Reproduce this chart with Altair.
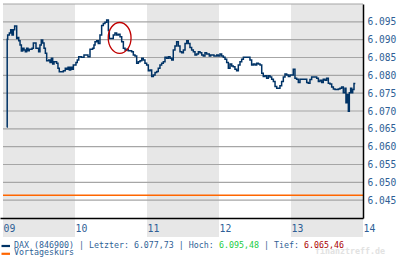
import altair as alt
import pandas as pd

# ---- data (minutes after 09:00, index points) ----
minutes = [
    3.1, 3.5, 3.9, 5.3, 6.4, 7.5, 8.6, 9.7, 11.4, 11.9, 13.1, 14.2, 15.3, 16.4, 17.5, 18.6, 19.7, 20.8,
    21.9, 24.2, 25.3, 27.5, 29.7, 30.8, 31.9, 33.1, 34.2, 35.3, 36.4, 38.1, 39.2, 40.3, 41.4, 42.5, 44.7,
    45.8, 46.9, 50.3, 51.9, 53.1, 54.2, 55.3, 56.4, 57.5, 58.6, 60.8, 61.9, 63.1, 65.3, 67.5, 70.8, 72.5,
    74.7, 75.8,
    76.7, 78.1, 79.4, 80.8, 82.2, 83.6, 85.0, 86.4, 87.8, 88.6, 91.9, 93.3, 94.7, 96.1, 97.5, 98.9, 100.3,
    101.7, 103.1, 104.4, 107.2, 108.6, 110.0, 111.4, 112.8, 114.2, 115.6, 116.9, 118.3, 119.7, 121.1,
    122.5, 123.9, 125.3, 126.7, 128.1, 129.4, 130.8, 132.2, 133.6, 135.0, 136.4, 137.8, 139.2, 140.6,
    141.9, 143.3, 144.7, 146.1, 147.5, 148.9, 150.3, 151.7, 153.1, 154.4,
    155.8, 157.2, 158.6, 160.0, 161.4, 162.8, 164.2, 165.6, 166.9, 168.3, 169.7, 171.9, 173.1, 175.8,
    178.1, 179.4, 180.8, 182.2, 183.6, 185.0, 186.4, 187.8, 189.2, 190.6, 191.9, 193.3, 194.7, 196.1,
    197.5, 198.9, 200.3, 205.8, 207.2, 208.6, 210.0, 211.4, 212.8, 214.2, 215.6, 216.9, 218.3, 219.7,
    221.1, 222.5, 223.9, 225.3, 226.7, 228.1, 230.8, 232.2, 233.6,
    235.0, 236.4, 237.8, 239.2, 241.9, 243.3, 244.7, 246.1, 247.5, 253.1, 254.4, 255.8, 257.2, 261.4,
    262.8, 264.2, 265.6, 266.9, 268.3, 269.7, 271.1, 272.5, 273.9, 275.3, 276.7, 279.4, 280.8, 282.2,
    283.6, 285.0, 285.8, 286.9, 287.8, 288.6, 289.7, 290.6, 291.4, 292.5, 293.6,
]
values = [
    6065.5, 6090.1, 6091.3, 6091.9, 6092.8, 6091.3, 6092.8, 6093.8, 6090.3, 6090.6, 6089.7, 6088.5,
    6086.8, 6087.6, 6087.1, 6086.6, 6087.6, 6086.9, 6087.3, 6087.6, 6089.1, 6087.6, 6086.6, 6088.5,
    6089.9, 6089.1, 6087.6, 6086.2, 6084.1, 6084.3, 6083.6, 6084.8, 6083.2, 6083.8, 6083.4, 6082.0,
    6081.0, 6081.3, 6082.0, 6081.7, 6082.3, 6081.5, 6082.3, 6081.7, 6082.9, 6083.6, 6084.3, 6085.2,
    6085.1, 6085.7, 6085.2, 6087.3, 6087.6, 6088.5,
    6089.4, 6089.7, 6088.9, 6091.3, 6094.0, 6094.5, 6094.9, 6095.5, 6092.6, 6090.3, 6091.3, 6091.9,
    6091.3, 6091.5, 6090.8, 6089.4, 6087.6, 6087.1, 6087.3, 6086.9, 6086.6, 6085.7, 6085.4, 6083.4,
    6083.8, 6084.1, 6084.8, 6084.3, 6083.4, 6082.9, 6081.3, 6081.5, 6079.7, 6080.1, 6080.8, 6081.1,
    6082.0, 6082.9, 6083.4, 6083.8, 6085.1, 6084.8, 6085.2, 6084.8, 6084.3, 6087.1, 6088.2, 6089.4,
    6088.2, 6086.6, 6086.3, 6087.1, 6088.9, 6089.7, 6088.9,
    6087.8, 6087.1, 6086.6, 6085.7, 6086.0, 6086.6, 6086.3, 6085.7, 6085.4, 6086.3, 6086.0, 6085.4,
    6085.7, 6085.4, 6085.7, 6085.4, 6086.0, 6085.4, 6085.1, 6084.5, 6083.6, 6082.0, 6083.2, 6082.6,
    6082.4, 6081.7, 6081.3, 6082.9, 6083.8, 6084.5, 6085.1, 6084.3, 6082.9, 6083.2, 6082.9, 6083.4,
    6083.2, 6082.9, 6080.6, 6079.7, 6079.9, 6079.2, 6079.9, 6079.5, 6078.9, 6078.3, 6076.9, 6076.4,
    6077.1, 6078.3, 6079.5,
    6080.4, 6080.1, 6079.7, 6080.1, 6081.7, 6079.2, 6078.9, 6078.0, 6078.9, 6078.0, 6077.8, 6078.8,
    6079.5, 6079.2, 6078.3, 6078.6, 6078.0, 6078.9, 6078.6, 6079.2, 6077.8, 6077.6, 6076.7, 6076.2,
    6076.0, 6076.2, 6076.4, 6076.7, 6075.1, 6076.4, 6072.3, 6074.6, 6069.9, 6075.1, 6076.4, 6075.1,
    6076.0, 6077.7, 6077.7,
]
vortageskurs = 6046.4
band_start = [9, 11, 13]
band_end = [10, 12, 14]
grid_levels = [6045, 6050, 6055, 6060, 6065, 6070, 6075, 6080, 6085, 6090, 6095, 6100]
y_ticks = [6045, 6050, 6055, 6060, 6065, 6070, 6075, 6080, 6085, 6090, 6095]
x_ticks = [9, 10, 11, 12, 13, 14]
circle_minute = [97.2]
circle_value = [6090.5]

# ---- tables ----
df = pd.DataFrame({"hour": [9 + m / 60 for m in minutes], "value": values})
bands = pd.DataFrame({"start": band_start, "end": band_end})
grid = pd.DataFrame({"level": grid_levels})
vortag = pd.DataFrame({"level": [vortageskurs]})
circ = pd.DataFrame({"hour": [9 + m / 60 for m in circle_minute], "value": circle_value})

BLUE_TXT = "#2f5f96"
LINE = "#003366"
FONT = "DejaVu Sans Mono"

# small lead before 09:00 so the bottom axis line starts at the left edge
xs = alt.Scale(domain=[9 - 3 / 72, 14], nice=False, zero=False)
ys = alt.Scale(domain=[6040, 6100], nice=False, zero=False)

x_axis = alt.Axis(
    values=x_ticks, grid=False, ticks=False, tickSize=0, domainColor="#000000", domainWidth=1.5,
    labelExpr="datum.value < 10 ? '0' + datum.value : '' + datum.value",
    labelAlign="left", labelBaseline="middle", labelPadding=10,
    labelFlush=False, labelOverlap=False, labelBound=False,
    labelColor=BLUE_TXT, labelFont=FONT, labelFontSize=9.8, title=None, zindex=2,
)
y_axis = alt.Axis(
    orient="right", values=y_ticks, grid=False, ticks=False, tickSize=0,
    domainColor="#000000", domainWidth=1.5,
    labelExpr="replace(format(datum.value, ','), ',', '.')",
    labelAlign="left", labelBaseline="middle", labelPadding=4,
    labelColor=BLUE_TXT, labelFont=FONT, labelFontSize=9.6, title=None,
    labelOverlap=False, labelFlush=False, labelBound=False, zindex=2,
)

X = lambda f: alt.X(f, scale=xs, axis=x_axis)
Y = lambda f: alt.Y(f, scale=ys, axis=y_axis)

band_layer = alt.Chart(bands).mark_rect(color="#e7e7e7").encode(
    x=X("start:Q"),
    x2="end:Q",
    y=alt.value(0),
    y2=alt.value(233),
)

grid_layer = alt.Chart(grid).mark_rule(color="#a6a6a6", strokeWidth=1.2).encode(
    x=alt.datum(band_start[0]), x2=alt.datum(band_end[-1]),
    y=Y("level:Q")
)

vortag_layer = alt.Chart(vortag).mark_rule(color="#ff6600", strokeWidth=1.5).encode(
    x=alt.datum(band_start[0]), x2=alt.datum(band_end[-1]),
    y=Y("level:Q")
)

line_layer = alt.Chart(df).mark_line(color=LINE, strokeWidth=1.5, interpolate="step-after").encode(
    x=X("hour:Q"),
    y=Y("value:Q"),
)

ellipse_path = "M 0 -1.35 A 1 1.35 0 1 1 0 1.35 A 1 1.35 0 1 1 0 -1.35 Z"
circle_layer = alt.Chart(circ).mark_point(
    shape=ellipse_path, size=520, filled=False, color="#c00000", strokeWidth=1.3, opacity=1
).encode(x=X("hour:Q"), y=Y("value:Q"))

# ---- legend area (text below the plot) ----
CW = 5.0   # monospace character width
X0 = 14    # legend text start
Y1, Y2 = 241.5, 249.3
seg_data = pd.DataFrame({"d": [0]})


def txt(s, x, y, color, weight="normal", size=8.3):
    return alt.Chart(seg_data).mark_text(
        text=s, align="left", baseline="middle", font=FONT, fontSize=size,
        color=color, fontWeight=weight,
    ).encode(x=alt.value(x), y=alt.value(y))


part1 = "DAX (846900) | Letzter: 6.077,73 | Hoch: "
part2 = "6.095,48"
part3 = "| Tief: "   # preceded by one space
part4 = "6.065,46"
n1, n2, n3 = len(part1), len(part2), len(part3) + 1
legend_layers = [
    alt.Chart(seg_data).mark_rule(color=LINE, strokeWidth=2.2).encode(
        x=alt.value(1.5), x2=alt.value(10), y=alt.value(Y1 + 0.5)),
    alt.Chart(seg_data).mark_rule(color="#ff6600", strokeWidth=2.2).encode(
        x=alt.value(1.5), x2=alt.value(10), y=alt.value(Y2 + 0.5)),
    txt("finanztreff.de", 315, 247.5, "#e2e2e2", weight="bold", size=8.3),
    txt(part1, X0, Y1, BLUE_TXT),
    txt(part2, X0 + CW * n1, Y1, "#22cc44"),
    txt(part3, X0 + CW * (n1 + n2 + 1), Y1, BLUE_TXT),
    txt(part4, X0 + CW * (n1 + n2 + n3), Y1, "#aa0000"),
    txt("Vortageskurs", X0, Y2, BLUE_TXT),
]

chart = alt.layer(
    band_layer, grid_layer, vortag_layer, line_layer, circle_layer, *legend_layers
).resolve_scale(x="shared", y="shared").properties(
    width=363, height=214,
    autosize=alt.AutoSizeParams(type="none"),
    padding={"left": 0, "top": 4, "right": 37, "bottom": 40},
    background="#ffffff",
).configure_view(stroke=None).configure_axis(labelOverlap=False)

chart.save("out.html", embed_options={"renderer": "svg", "actions": False})
